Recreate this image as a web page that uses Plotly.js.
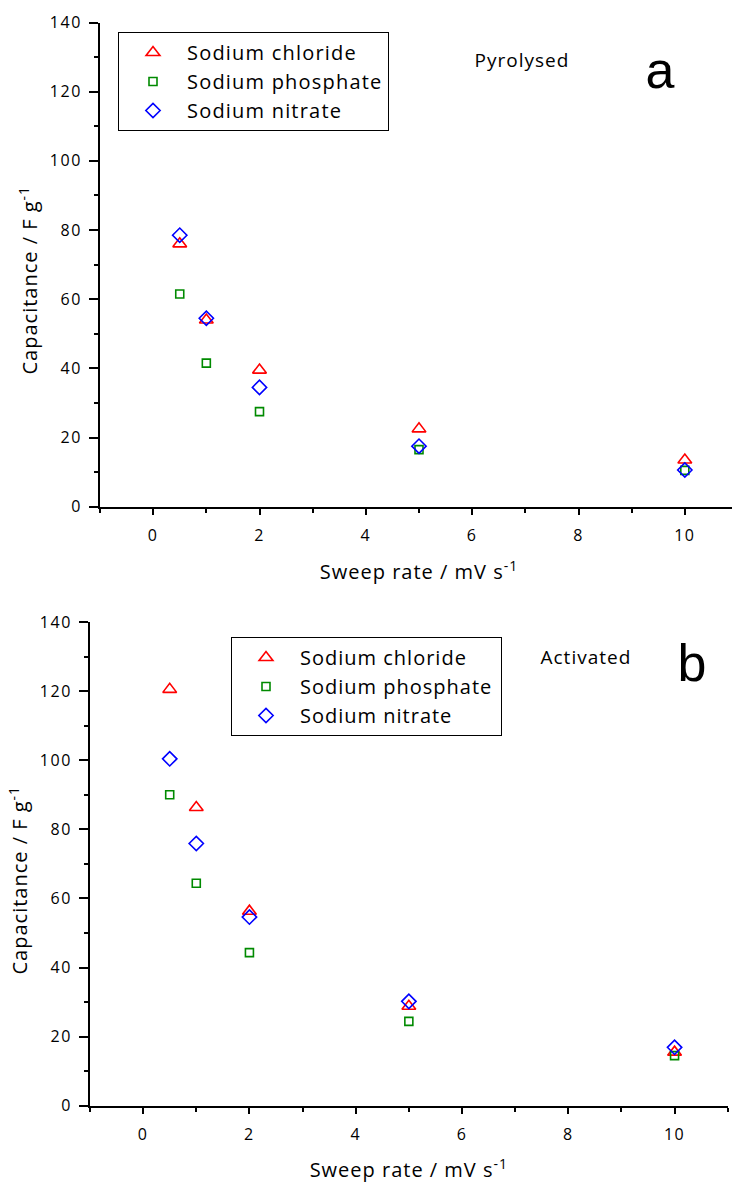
<!DOCTYPE html>
<html>
<head>
<meta charset="utf-8">
<script src="https://cdn.plot.ly/plotly-3.0.1.min.js"></script>
<style>
  html, body { margin: 0; padding: 0; overflow: hidden; background: #fff; }
  #chart { width: 738px; height: 1183px; }
  .main-svg text { letter-spacing: 1px; }
  .xtick text, .ytick text, .x3tick text, .y3tick text { letter-spacing: 1.5px; }
  .legendtext { letter-spacing: 1.2px !important; }
</style>
</head>
<body>
<div id="chart"></div>
<script>
// ---- data ----
const sweepRate = [0.5, 1, 2, 5, 10];
const seriesNames = ["Sodium chloride", "Sodium phosphate", "Sodium nitrate"];

// (a) Pyrolysed
const pyroChloride  = [76, 54, 39.5, 22.5, 13.5];
const pyroPhosphate = [61.5, 41.5, 27.5, 16.5, 10.5];
const pyroNitrate   = [78.5, 54.5, 34.5, 17.5, 10.6];

// (b) Activated
const actChloride  = [120.5, 86.3, 56.3, 28.8, 15.5];
const actPhosphate = [90, 64.4, 44.3, 24.4, 14.5];
const actNitrate   = [100.4, 75.9, 54.6, 30.2, 16.9];

const xTickVals = [0, 2, 4, 6, 8, 10];
const yTickVals = [0, 20, 40, 60, 80, 100, 120, 140];

// ---- styles ----
const W = 738, H = 1183;
const styles = [
  {symbol: "triangle-up-open", color: "#ff0000", size: 12},
  {symbol: "square-open", color: "#008a00", size: 8},
  {symbol: "diamond-open", color: "#0000ff", size: 11}
];

function mk(name, y, i, xa, ya, leg) {
  const s = styles[i];
  return {
    type: "scatter", mode: "markers", name: name,
    x: sweepRate, y: y, xaxis: xa, yaxis: ya, legend: leg,
    marker: {symbol: s.symbol, size: s.size, color: s.color,
             line: {color: s.color, width: 1.6}},
    hoverinfo: "x+y+name"
  };
}

const traces = [
  mk(seriesNames[0], pyroChloride, 0, "x", "y", "legend"),
  mk(seriesNames[1], pyroPhosphate, 1, "x", "y", "legend"),
  mk(seriesNames[2], pyroNitrate, 2, "x", "y", "legend"),
  mk(seriesNames[0], actChloride, 0, "x3", "y3", "legend2"),
  mk(seriesNames[1], actPhosphate, 1, "x3", "y3", "legend2"),
  mk(seriesNames[2], actNitrate, 2, "x3", "y3", "legend2")
];

const tickFont = {family: "Open Sans", size: 16, color: "#000"};

function bottomX(domain, anchor) {
  return {
    domain: domain, anchor: anchor, range: [-1, 11],
    tickmode: "array", tickvals: xTickVals, ticktext: xTickVals.map(String),
    ticks: "outside", ticklen: 6, tickwidth: 2, tickcolor: "#000",
    minor: {dtick: 1, tick0: 0, ticks: "outside", ticklen: 4, tickwidth: 1.5, tickcolor: "#000"},
    showline: true, linewidth: 2, linecolor: "#000",
    showgrid: false, zeroline: false, tickfont: tickFont, ticklabelstandoff: 7,
    title: {text: "Sweep rate / mV s<sup>-1</sup>", font: {family: "Open Sans", size: 20, color: "#000"}, standoff: 20}
  };
}
function leftY(domain, anchor) {
  return {
    domain: domain, anchor: anchor, range: [0, 140],
    tickmode: "array", tickvals: yTickVals, ticktext: yTickVals.map(String),
    ticks: "outside", ticklen: 9, tickwidth: 2, tickcolor: "#000",
    minor: {dtick: 10, tick0: 0, ticks: "outside", ticklen: 4, tickwidth: 1.5, tickcolor: "#000"},
    showline: true, linewidth: 2, linecolor: "#000",
    showgrid: false, zeroline: false, tickfont: tickFont, ticklabelstandoff: 4
  };
}
function topX(over, anchor) {
  return {
    overlaying: over, anchor: anchor, side: "top", range: [-1, 11],
    tickmode: "array", tickvals: xTickVals, showticklabels: false,
    ticks: "inside", ticklen: 10, tickwidth: 2, tickcolor: "#000",
    minor: {dtick: 1, tick0: 0, ticks: "inside", ticklen: 5, tickwidth: 1.5, tickcolor: "#000"},
    showline: true, linewidth: 2, linecolor: "#000",
    showgrid: false, zeroline: false
  };
}
function rightY(over, anchor) {
  return {
    overlaying: over, anchor: anchor, side: "right", range: [0, 140],
    tickmode: "array", tickvals: yTickVals, showticklabels: false,
    ticks: "inside", ticklen: 9, tickwidth: 2, tickcolor: "#000",
    minor: {dtick: 10, tick0: 0, ticks: "inside", ticklen: 5, tickwidth: 1.5, tickcolor: "#000"},
    showline: true, linewidth: 2, linecolor: "#000",
    showgrid: false, zeroline: false
  };
}

const topDomY = [(H - 506.7) / H, (H - 22.5) / H];
const botDomY = [(H - 1105.7) / H, (H - 622) / H];

const legendBase = {
  xanchor: "left", yanchor: "top", bgcolor: "#fff",
  bordercolor: "#000", borderwidth: 1,
  font: {family: "Open Sans", size: 20, color: "#000"},
  itemwidth: 58, tracegroupgap: 0
};

const labelFont = {family: "Open Sans", size: 19, color: "#000"};
const yTitleFont = {family: "Open Sans", size: 20, color: "#000"};
const letterFont = {family: "Liberation Sans", size: 52, color: "#000"};

const layout = {
  width: W, height: H,
  margin: {l: 0, r: 0, t: 0, b: 0},
  paper_bgcolor: "#fff", plot_bgcolor: "#fff",
  font: {family: "Open Sans", color: "#000"},
  showlegend: true,
  xaxis: bottomX([100 / W, 1], "y"),
  yaxis: leftY(topDomY, "x"),
  xaxis2: topX("x", "y"),
  yaxis2: rightY("y", "x"),
  xaxis3: bottomX([90 / W, 727.7 / W], "y3"),
  yaxis3: leftY(botDomY, "x3"),
  xaxis4: topX("x3", "y3"),
  yaxis4: rightY("y3", "x3"),
  legend: Object.assign({}, legendBase, {x: 118 / W, y: 1 - 32 / H}),
  legend2: Object.assign({}, legendBase, {x: 231 / W, y: 1 - 637 / H}),
  annotations: [
    {text: "Pyrolysed", x: 522 / W, y: 1 - 60 / H, xref: "paper", yref: "paper",
     xanchor: "center", yanchor: "middle", showarrow: false, font: labelFont},
    {text: "Activated", x: 586 / W, y: 1 - 657 / H, xref: "paper", yref: "paper",
     xanchor: "center", yanchor: "middle", showarrow: false, font: labelFont},
    {text: "a", x: 660 / W, y: 1 - 70 / H, xref: "paper", yref: "paper",
     xanchor: "center", yanchor: "middle", showarrow: false, font: letterFont},
    {text: "b", x: 692 / W, y: 1 - 663 / H, xref: "paper", yref: "paper",
     xanchor: "center", yanchor: "middle", showarrow: false, font: letterFont},
    {text: "Capacitance / F g<sup>-1</sup>", textangle: -90, x: 28 / W, y: 1 - 280 / H,
     xref: "paper", yref: "paper", xanchor: "center", yanchor: "middle",
     showarrow: false, font: yTitleFont},
    {text: "Capacitance / F g<sup>-1</sup>", textangle: -90, x: 19 / W, y: 1 - 880 / H,
     xref: "paper", yref: "paper", xanchor: "center", yanchor: "middle",
     showarrow: false, font: yTitleFont}
  ]
};

Plotly.newPlot("chart", traces, layout, {staticPlot: false, displayModeBar: false});
</script>
</body>
</html>
